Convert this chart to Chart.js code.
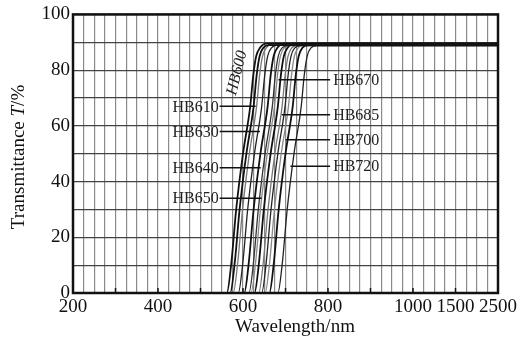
<!DOCTYPE html>
<html>
<head>
<meta charset="utf-8">
<script src="https://cdn.jsdelivr.net/npm/chart.js@4"></script>
<style>
  body { margin: 0; background: #fff; }
</style>
</head>
<body>
<canvas id="chart" width="523" height="340"></canvas>
<script>
const levels = [0, 0, 10, 30, 50, 67, 78, 85, 88];
// wavelength (nm) of each curve at those levels, then plateau start
const filters = ["HB600", "HB610", "HB620", "HB630", "HB640", "HB650", "HB660", "HB670", "HB680", "HB685", "HB690", "HB700", "HB720"];
const curveNm = [
    [200, 562, 572, 584, 600, 617, 624, 631, 640, 654],
    [200, 570, 580, 592, 608, 625, 632, 639, 648, 662],
    [200, 577, 587, 599, 615, 632, 639, 646, 655, 669],
    [200, 589, 599, 611, 627, 644, 651, 658, 667, 681],
    [200, 603, 613, 625, 641, 658, 665, 672, 681, 695],
    [200, 614, 624, 636, 652, 669, 676, 683, 692, 706],
    [200, 619, 629, 641, 657, 674, 681, 688, 697, 711],
    [200, 627, 637, 649, 665, 682, 689, 696, 705, 719],
    [200, 637, 647, 659, 675, 692, 699, 706, 715, 729],
    [200, 644, 654, 666, 682, 699, 706, 713, 722, 736],
    [200, 652, 662, 674, 690, 707, 714, 721, 730, 744],
    [200, 662, 672, 684, 700, 717, 724, 731, 740, 754],
    [200, 682, 692, 704, 720, 737, 744, 751, 760, 774]
];
const plateau = [89.5, 89, 89.5, 89, 89.5, 88.8, 89, 89.5, 89, 88.8, 89.5, 89, 88.8];
const curveColor = ["#111", "#111", "#777", "#222", "#111", "#333", "#888", "#111", "#777", "#222", "#888", "#111", "#222"];

const xTickNm = [200, 400, 600, 800, 1000, 1500, 2500];
const xTickLabels = ["200", "400", "600", "800", "1000", "1500", "2500"];

// callouts: filter name, level (%) where the leader line meets the curve, side
const callouts = [
    ["HB610", 67, "left"], ["HB630", 58, "left"], ["HB640", 45, "left"], ["HB650", 34, "left"],
    ["HB670", 76.5, "right"], ["HB685", 64, "right"], ["HB700", 55, "right"], ["HB720", 45.5, "right"]
];

// the axis is linear up to 1000 nm, then one step to 1500 and one to 2500
function toAxis(w) {
    if (w <= 1000) return (w - 200) / 100;
    if (w <= 1500) return 8 + (w - 1000) / 500;
    return 9 + (w - 1500) / 1000;
}

function nmAt(idx, level) {
    const nm = curveNm[idx];
    for (let i = 1; i < levels.length - 1; i++) {
        if (level >= levels[i] && level <= levels[i + 1]) {
            const f = (level - levels[i]) / (levels[i + 1] - levels[i]);
            return nm[i] + f * (nm[i + 1] - nm[i]);
        }
    }
    return nm[nm.length - 1];
}

const datasets = filters.map((name, i) => {
    const pts = curveNm[i].map((w, j) => ({ x: toAxis(w), y: j < levels.length ? levels[j] : plateau[i] }));
    pts.push({ x: toAxis(2500), y: plateau[i] });
    return {
        label: name,
        data: pts,
        borderColor: curveColor[i],
        borderWidth: curveColor[i] === "#111" ? 1.8 : 1.3,
        pointRadius: 0,
        cubicInterpolationMode: "monotone",
        fill: false
    };
});

const serif = "'Liberation Serif', 'Times New Roman', serif";

const decor = {
    id: "decor",
    afterDatasetsDraw(chart) {
        const ctx = chart.ctx;
        const xs = chart.scales.x, ys = chart.scales.y;
        const a = chart.chartArea;
        ctx.save();

        // inward tick marks on the bottom edge
        ctx.strokeStyle = "#111";
        ctx.lineWidth = 1.5;
        for (let k = 1; k <= 9; k++) {
            const px = xs.getPixelForValue(k);
            ctx.beginPath();
            ctx.moveTo(px, a.bottom);
            ctx.lineTo(px, a.bottom - 5);
            ctx.stroke();
        }

        // frame
        ctx.lineWidth = 2.5;
        ctx.strokeRect(a.left, a.top, a.right - a.left, a.bottom - a.top);

        // callouts
        ctx.font = "16px " + serif;
        ctx.fillStyle = "#222";
        ctx.lineWidth = 1.5;
        ctx.textBaseline = "middle";
        callouts.forEach(([name, level, side]) => {
            const idx = filters.indexOf(name);
            const cx = xs.getPixelForValue(toAxis(nmAt(idx, level)));
            const cy = ys.getPixelForValue(level);
            const endX = xs.getPixelForValue(toAxis(side === "left" ? 545 : 805));
            ctx.beginPath();
            ctx.moveTo(cx + (side === "left" ? 2 : -2), cy);
            ctx.lineTo(endX, cy);
            ctx.stroke();
            ctx.textAlign = side === "left" ? "right" : "left";
            ctx.fillText(name, endX + (side === "left" ? -1 : 3), cy + 1);
        });

        // HB600 written along its curve
        ctx.save();
        ctx.translate(xs.getPixelForValue(toAxis(586)), ys.getPixelForValue(79));
        ctx.rotate(-76 * Math.PI / 180);
        ctx.font = "italic 16px " + serif;
        ctx.textAlign = "center";
        ctx.fillText("HB600", 0, 0);
        ctx.restore();

        // axis titles
        ctx.fillStyle = "#111";
        ctx.font = "19px " + serif;
        ctx.textAlign = "center";
        ctx.textBaseline = "alphabetic";
        ctx.fillText("Wavelength/nm", 295, 332);

        const p1 = "Transmittance ", p2 = "T", p3 = "/%";
        const f1 = "19px " + serif, f2 = "italic 19px " + serif;
        ctx.font = f1; const w1 = ctx.measureText(p1).width, w3 = ctx.measureText(p3).width;
        ctx.font = f2; const w2 = ctx.measureText(p2).width;
        const total = w1 + w2 + w3;
        ctx.translate(24, 157);
        ctx.rotate(-Math.PI / 2);
        ctx.textAlign = "left";
        let x0 = -total / 2;
        ctx.font = f1; ctx.fillText(p1, x0, 0); x0 += w1;
        ctx.font = f2; ctx.fillText(p2, x0, 0); x0 += w2;
        ctx.font = f1; ctx.fillText(p3, x0, 0);
        ctx.restore();
    }
};

new Chart(document.getElementById("chart"), {
    type: "line",
    data: { datasets },
    plugins: [decor],
    options: {
        responsive: false,
        animation: false,
        layout: { padding: { left: 0, top: 12, right: 25, bottom: 0 } },
        plugins: { legend: { display: false }, tooltip: { enabled: false } },
        scales: {
            x: {
                type: "linear",
                min: 0,
                max: 10,
                afterFit: s => { s.height = 47; },
                border: { display: false },
                grid: { color: "#8a8a8a", lineWidth: 1.2, drawTicks: false },
                ticks: {
                    stepSize: 0.25,
                    autoSkip: false,
                    maxRotation: 0,
                    padding: 3,
                    color: "#111",
                    font: { family: serif, size: 19 },
                    callback: v => {
                        const i = xTickNm.findIndex(w => Math.abs(toAxis(w) - v) < 1e-6);
                        return i >= 0 ? xTickLabels[i] : "";
                    }
                }
            },
            y: {
                min: 0,
                max: 100,
                afterFit: s => { s.width = 73; },
                border: { display: false },
                grid: { color: "#444", lineWidth: 1.2, drawTicks: false },
                ticks: {
                    stepSize: 10,
                    padding: 3,
                    color: "#111",
                    font: { family: serif, size: 19 },
                    callback: v => (v % 20 === 0 ? String(v) : "")
                }
            }
        }
    }
});
</script>
</body>
</html>
